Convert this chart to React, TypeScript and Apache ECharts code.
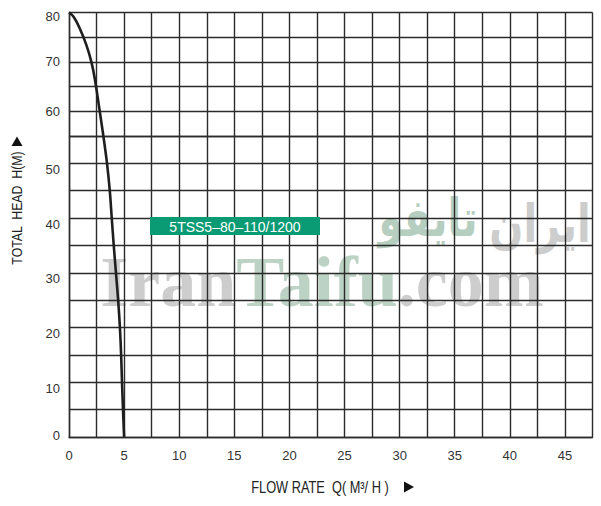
import React, { useEffect, useRef } from "react";
import * as echarts from "echarts";

// Pump curve readings (flow Q in m³/h, head H in m)
const Q_UPPER = [0, 0.43, 0.97, 1.58, 2.03, 2.34, 2.79, 3.12];
const H_UPPER = [80, 79.1, 76.8, 73.4, 70, 66.6, 60, 55];
const Q_LOWER = [3.12, 3.45, 3.7, 3.88, 4.06, 4.26, 4.46, 4.62, 4.73, 4.81, 4.9, 5.0];
const H_LOWER = [55, 50, 45, 40, 35, 30, 25, 20, 15, 10, 5, 0];

const X_LABELS = [0, 5, 10, 15, 20, 25, 30, 35, 40, 45];
const Y_LABELS = [0, 10, 20, 30, 40, 50, 60, 70, 80];

const CURVE_NAME = "5TSS5–80–110/1200";
const X_TITLE = "FLOW RATE  Q( M³/ H )";
const Y_TITLE = "TOTAL  HEAD  H(M)";

const GRID_COLOR = "#2b2b2b";
const LABEL_FONT = "'Liberation Sans', Arial, sans-serif";
const NARROW_FONT = "'Liberation Sans Narrow', 'Liberation Sans', sans-serif";

export default function App() {
  const ref = useRef<HTMLDivElement>(null);

  useEffect(() => {
    if (!ref.current) return;
    const chart = echarts.init(ref.current, undefined, { renderer: "svg" });

    const lineStyle = { color: GRID_COLOR, width: 1.4 };
    const labelRich = {
      d: { fontSize: 13, fontFamily: LABEL_FONT, color: "#333", padding: [12, 0, 0, 0] },
      t: { fontSize: 13, fontFamily: LABEL_FONT, color: "#333", padding: [8, 0, 0, 0] },
      n: { fontSize: 13, fontFamily: LABEL_FONT, color: "#333" },
      z: { fontSize: 13, fontFamily: LABEL_FONT, color: "#333", padding: [0, 0, 4, 0] },
    };
    const yFormatter = (v: number) => {
      if (!Y_LABELS.includes(v)) return "";
      if (v === 0) return `{z|0}`;
      if (v === 80) return `{t|80}`;
      if (v >= 60) return `{n|${v}}`;
      return `{d|${v}}`;
    };

    const option: any = {
      animation: false,
      backgroundColor: "#ffffff",
      grid: [
        { left: 69, right: 8.5, top: 12.5, height: 123.5 },
        { left: 69, right: 8.5, top: 136, height: 301 },
      ],
      xAxis: [
        {
          type: "value",
          gridIndex: 0,
          min: 0,
          max: 47.5,
          interval: 2.5,
          axisLine: { show: false },
          axisTick: { show: false },
          axisLabel: { show: false },
          splitLine: { show: true, lineStyle },
        },
        {
          type: "value",
          gridIndex: 1,
          min: 0,
          max: 47.5,
          interval: 2.5,
          axisLine: { show: true, lineStyle },
          axisTick: { show: false },
          axisLabel: {
            show: true,
            interval: 0,
            margin: 12,
            fontSize: 13,
            fontFamily: LABEL_FONT,
            color: "#333",
            formatter: (v: number) => (X_LABELS.includes(v) ? String(v) : ""),
          },
          splitLine: { show: true, lineStyle },
        },
      ],
      yAxis: [
        {
          type: "value",
          gridIndex: 0,
          min: 55,
          max: 80,
          interval: 5,
          axisLine: { show: true, lineStyle },
          axisTick: { show: false },
          axisLabel: {
            show: true,
            margin: 9,
            showMinLabel: true,
            showMaxLabel: true,
            formatter: yFormatter,
            rich: labelRich,
          },
          splitLine: { show: true, lineStyle },
        },
        {
          type: "value",
          gridIndex: 1,
          min: 0,
          max: 55,
          interval: 5,
          axisLine: { show: true, lineStyle },
          axisTick: { show: false },
          axisLabel: {
            show: true,
            margin: 9,
            showMinLabel: true,
            showMaxLabel: true,
            formatter: yFormatter,
            rich: labelRich,
          },
          splitLine: { show: true, lineStyle },
        },
      ],
      series: [
        {
          name: CURVE_NAME,
          type: "line",
          xAxisIndex: 0,
          yAxisIndex: 0,
          data: Q_UPPER.map((q, i) => [q, H_UPPER[i]]),
          smooth: 0.4,
          showSymbol: false,
          symbol: "none",
          clip: false,
          z: 5,
          lineStyle: { color: "#1e1e1e", width: 2.6 },
        },
        {
          name: CURVE_NAME,
          type: "line",
          xAxisIndex: 1,
          yAxisIndex: 1,
          data: Q_LOWER.map((q, i) => [q, H_LOWER[i]]),
          smooth: 0.3,
          showSymbol: false,
          symbol: "none",
          clip: false,
          z: 5,
          lineStyle: { color: "#1e1e1e", width: 2.6 },
        },
      ],
      graphic: [
        // watermark (behind the grid)
        {
          type: "text",
          z: -10,
          x: 322,
          y: 282,
          silent: true,
          style: {
            text: "{a|Iran}{b|Taifu}{a|.com}",
            align: "center",
            verticalAlign: "middle",
            rich: {
              a: { fontSize: 72, fontWeight: "bold", fontFamily: "'Liberation Serif', 'Times New Roman', serif", fill: "#cdcdcd" },
              b: { fontSize: 72, fontWeight: "bold", fontFamily: "'Liberation Serif', 'Times New Roman', serif", fill: "#bcd2c5" },
            },
          },
        },
        {
          type: "text",
          z: -10,
          x: 540,
          y: 224,
          scaleY: 1.3,
          silent: true,
          style: {
            text: "ایران",
            align: "center",
            verticalAlign: "middle",
            fontSize: 40,
            fontWeight: "bold",
            fontFamily: "'DejaVu Sans', sans-serif",
            fill: "#cdcdcd",
          },
        },
        {
          type: "text",
          z: -10,
          x: 428,
          y: 218,
          scaleY: 1.3,
          silent: true,
          style: {
            text: "تایفو",
            align: "center",
            verticalAlign: "middle",
            fontSize: 40,
            fontWeight: "bold",
            fontFamily: "'DejaVu Sans', sans-serif",
            fill: "#b6cec0",
          },
        },
        // curve name tag
        {
          type: "rect",
          z: 20,
          shape: { x: 150, y: 217, width: 170, height: 18 },
          style: { fill: "#0a9b74" },
        },
        {
          type: "text",
          z: 21,
          x: 235,
          y: 226.5,
          style: {
            text: CURVE_NAME,
            align: "center",
            verticalAlign: "middle",
            fontSize: 14,
            fontFamily: LABEL_FONT,
            fill: "#ffffff",
          },
        },
        // y axis title
        {
          type: "text",
          z: 20,
          x: 17,
          y: 208,
          rotation: Math.PI / 2,
          scaleX: 0.88,
          style: {
            text: Y_TITLE,
            align: "center",
            verticalAlign: "middle",
            fontSize: 14,
            fontFamily: NARROW_FONT,
            fill: "#222",
          },
        },
        {
          type: "polygon",
          z: 20,
          shape: { points: [[11.5, 146], [22.5, 146], [17, 136.5]] },
          style: { fill: "#111" },
        },
        // x axis title
        {
          type: "text",
          z: 20,
          x: 320,
          y: 487,
          scaleX: 0.8,
          style: {
            text: X_TITLE,
            align: "center",
            verticalAlign: "middle",
            fontSize: 16,
            fontFamily: NARROW_FONT,
            fill: "#222",
          },
        },
        {
          type: "polygon",
          z: 20,
          shape: { points: [[404, 481.5], [404, 492.5], [414, 487]] },
          style: { fill: "#111" },
        },
      ],
    };

    chart.setOption(option);
    return () => chart.dispose();
  }, []);

  return (
    <div
      ref={ref}
      style={{ position: "absolute", left: 0, top: 0, width: 601, height: 506 }}
    />
  );
}
